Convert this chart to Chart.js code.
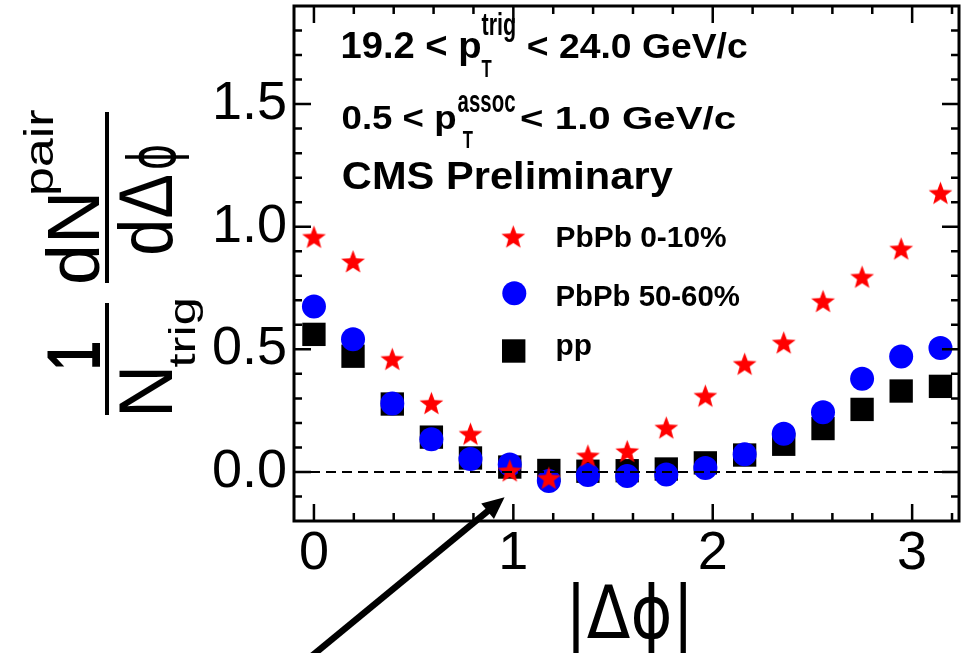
<!DOCTYPE html>
<html><head><meta charset="utf-8">
<script src="https://cdn.jsdelivr.net/npm/chart.js@4.4.1/dist/chart.umd.min.js"></script>
<style>html,body{margin:0;padding:0;background:#fff}#wrap{width:961px;height:653px}</style>
</head><body><div id="wrap"><canvas id="c" width="961" height="653"></canvas></div>
<script>
// ---- data ----
const dphi = [0, 0.196, 0.393, 0.589, 0.785, 0.982, 1.178, 1.374, 1.571, 1.767, 1.963, 2.160, 2.356, 2.553, 2.749, 2.945, 3.142];
const pbpbCentral    = [0.958, 0.858, 0.460, 0.280, 0.155, 0.005, -0.025, 0.066, 0.084, 0.180, 0.310, 0.440, 0.527, 0.696, 0.795, 0.910, 1.137];
const pbpbPeripheral = [0.675, 0.541, 0.279, 0.133, 0.053, 0.030, -0.037, -0.012, -0.017, -0.010, 0.016, 0.072, 0.156, 0.243, 0.380, 0.471, 0.505];
const ppValues       = [0.561, 0.472, 0.277, 0.142, 0.057, 0.020, 0.006, 0.003, 0.005, 0.012, 0.037, 0.069, 0.113, 0.177, 0.255, 0.330, 0.349];
const seriesLabels = ['PbPb 0-10%', 'PbPb 50-60%', 'pp'];
const xTickValues = [0, 1, 2, 3];
const yTickValues = [0, 0.5, 1.0, 1.5];
const xTitle = '|\u0394\u03D5|';

const FAM = "'Liberation Sans', Arial, Helvetica, sans-serif";
const GFAM = "'DejaVu Sans', 'Liberation Sans', sans-serif";

function makeStar(R, ratio, color) {
  const s = Math.ceil(2 * R + 2);
  const c = document.createElement('canvas');
  c.width = s; c.height = s;
  const g = c.getContext('2d');
  g.fillStyle = color;
  g.beginPath();
  for (let i = 0; i < 10; i++) {
    const r = i % 2 ? R * ratio : R;
    const a = -Math.PI / 2 + i * Math.PI / 5;
    g.lineTo(s / 2 + r * Math.cos(a), s / 2 + 1 + r * Math.sin(a));
  }
  g.closePath(); g.fill();
  return c;
}
const starImg = makeStar(12.5, 0.42, '#ff0000');

// fit a text's ink box to a target box (horizontal)
function fitText(ctx, text, x0, x1, top, base, bold, fam) {
  ctx.save();
  ctx.font = (bold ? 'bold ' : '') + '100px ' + (fam || FAM);
  ctx.textAlign = 'left'; ctx.textBaseline = 'alphabetic';
  const m = ctx.measureText(text);
  const w = m.actualBoundingBoxLeft + m.actualBoundingBoxRight;
  const a = m.actualBoundingBoxAscent;
  ctx.translate(x0, base);
  ctx.scale((x1 - x0) / w, (base - top) / a);
  ctx.fillStyle = '#000';
  ctx.fillText(text, m.actualBoundingBoxLeft, 0);
  ctx.restore();
}
// rotated (reading upward): y0 = bottom start, y1 = top end, xTop glyph top, xBase baseline
function fitTextRot(ctx, text, y0, y1, xTop, xBase, bold, fam) {
  ctx.save();
  ctx.font = (bold ? 'bold ' : '') + '100px ' + (fam || FAM);
  ctx.textAlign = 'left'; ctx.textBaseline = 'alphabetic';
  const m = ctx.measureText(text);
  const w = m.actualBoundingBoxLeft + m.actualBoundingBoxRight;
  const a = m.actualBoundingBoxAscent;
  ctx.translate(xBase, y0);
  ctx.rotate(-Math.PI / 2);
  ctx.scale((y0 - y1) / w, (xBase - xTop) / a);
  ctx.fillStyle = '#000';
  ctx.fillText(text, m.actualBoundingBoxLeft, 0);
  ctx.restore();
}

const decor = {
  id: 'decor',
  beforeDraw(chart) {
    const ctx = chart.ctx;
    ctx.save(); ctx.fillStyle = '#fff'; ctx.fillRect(0, 0, chart.width, chart.height); ctx.restore();
  },
  afterDatasetsDraw(chart) {
    const ctx = chart.ctx, a = chart.chartArea, xs = chart.scales.x, ys = chart.scales.y;
    ctx.save();
    // dashed zero line
    const y0 = ys.getPixelForValue(0);
    ctx.strokeStyle = '#000'; ctx.lineWidth = 2; ctx.setLineDash([10, 6]);
    ctx.beginPath(); ctx.moveTo(a.left, y0); ctx.lineTo(a.right, y0); ctx.stroke();
    ctx.setLineDash([]);
    // frame
    ctx.lineWidth = 3;
    ctx.strokeRect(a.left, a.top, a.right - a.left, a.bottom - a.top);
    // ticks (inside)
    ctx.lineWidth = 2.5;
    ctx.beginPath();
    for (let k = 0; k <= 16; k++) {
      const v = k * 0.2;
      const px = xs.getPixelForValue(v);
      const major = (k % 5 === 0);
      const L = major ? 17 : 8;
      ctx.moveTo(px, a.bottom); ctx.lineTo(px, a.bottom - L);
      ctx.moveTo(px, a.top); ctx.lineTo(px, a.top + L);
    }
    for (let k = -1; k <= 18; k++) {
      const v = k * 0.1;
      const py = ys.getPixelForValue(v);
      const major = (k % 5 === 0);
      const L = major ? 17 : 8;
      ctx.moveTo(a.left, py); ctx.lineTo(a.left + L, py);
      ctx.moveTo(a.right, py); ctx.lineTo(a.right - L, py);
    }
    ctx.stroke();
    ctx.restore();
  },
  afterDraw(chart) {
    const ctx = chart.ctx, xs = chart.scales.x, ys = chart.scales.y;
    const ds = chart.data.datasets;
    // annotations in the plot
    fitText(ctx, '19.2 < p', 342.7, 480, 32.7, 58.3, true);
    fitText(ctx, 'T', 481.7, 491.7, 60, 76.7, true);
    fitText(ctx, 'trig', 481.7, 515, 11.7, 35, true);
    fitText(ctx, '< 24.0 GeV/c', 528.3, 746.7, 32.7, 58.3, true);
    fitText(ctx, '0.5 < p', 342.7, 455, 106, 129.3, true);
    fitText(ctx, 'T', 463, 473, 131.7, 148.3, true);
    fitText(ctx, 'assoc', 458, 515, 95, 111.7, true);
    fitText(ctx, '< 1.0 GeV/c', 521.7, 735, 106, 129.3, true);
    fitText(ctx, 'CMS Preliminary', 343.5, 673, 160.6, 189.3, true);
    // legend
    ctx.save();
    ctx.drawImage(starImg, 513.3 - starImg.width / 2, 236.7 - starImg.height / 2);
    ctx.fillStyle = ds[1].backgroundColor;
    ctx.beginPath(); ctx.arc(514.3, 293.3, 12, 0, Math.PI * 2); ctx.fill();
    ctx.fillStyle = ds[2].backgroundColor;
    ctx.fillRect(513.7 - 11.7, 351 - 11.7, 23.4, 23.4);
    ctx.restore();
    fitText(ctx, seriesLabels[0], 557.3, 726, 225, 246.7, true);
    fitText(ctx, seriesLabels[1], 557.3, 739.3, 284.5, 306, true);
    fitText(ctx, seriesLabels[2], 557.3, 590.7, 339, 354.5, true);
    // x title
    fitText(ctx, xTitle, 573, 686, 582, 638, false, GFAM);
    // y title
    fitTextRot(ctx, '1', 367, 343, 48, 100, true);
    fitTextRot(ctx, 'N', 412, 370, 120, 172, false);
    fitTextRot(ctx, 'trig', 367, 300, 168, 195, false);
    fitTextRot(ctx, 'dN', 282, 196, 45, 99, false);
    fitTextRot(ctx, 'pair', 193, 110, 23, 53, false);
    fitTextRot(ctx, 'd\u0394', 253, 176, 117, 172, false);
    fitTextRot(ctx, '\u03D5', 168, 146, 125, 175, false, GFAM);
    ctx.save();
    ctx.fillStyle = '#000';
    ctx.fillRect(105, 303, 4, 112);
    ctx.fillRect(105, 112, 4, 171);
    // arrow
    const tx = xs.getPixelForValue(0.956), ty = ys.getPixelForValue(-0.103);
    const fx = xs.getPixelForValue(-0.055), fy = ys.getPixelForValue(-0.78);
    const ang = Math.atan2(ty - fy, tx - fx);
    const HL = 22, HW = 10;
    const bx = tx - HL * Math.cos(ang), by = ty - HL * Math.sin(ang);
    ctx.strokeStyle = '#000'; ctx.lineWidth = 6.5;
    ctx.beginPath(); ctx.moveTo(fx, fy); ctx.lineTo(bx + 2 * Math.cos(ang), by + 2 * Math.sin(ang)); ctx.stroke();
    ctx.beginPath();
    ctx.moveTo(tx, ty);
    ctx.lineTo(bx + HW * Math.sin(ang), by - HW * Math.cos(ang));
    ctx.lineTo(bx - HW * Math.sin(ang), by + HW * Math.cos(ang));
    ctx.closePath(); ctx.fill();
    ctx.restore();
  }
};

const mk = (vals) => dphi.map((x, i) => ({ x: x, y: vals[i] }));
const zeroPad = (s) => { s.paddingLeft = 0; s.paddingRight = 0; s.paddingTop = 0; s.paddingBottom = 0; };

new Chart(document.getElementById('c'), {
  type: 'scatter',
  data: {
    datasets: [
      { label: seriesLabels[0], data: mk(pbpbCentral), pointStyle: starImg, pointRadius: 12, pointHoverRadius: 12,
        backgroundColor: '#ff0000', borderColor: '#ff0000', borderWidth: 0, showLine: false },
      { label: seriesLabels[1], data: mk(pbpbPeripheral), pointStyle: 'circle', pointRadius: 12, pointHoverRadius: 12,
        backgroundColor: '#0000ff', borderColor: '#0000ff', borderWidth: 0, showLine: false },
      { label: seriesLabels[2], data: mk(ppValues), pointStyle: 'rect', pointRadius: 16.5, pointHoverRadius: 16.5,
        backgroundColor: '#000000', borderColor: '#000000', borderWidth: 0, showLine: false }
    ]
  },
  options: {
    responsive: false,
    animation: false,
    devicePixelRatio: 1,
    events: [],
    layout: { autoPadding: false, padding: { left: 0, top: 6, right: 2, bottom: 0 } },
    plugins: { legend: { display: false }, tooltip: { enabled: false }, title: { display: false } },
    scales: {
      x: {
        type: 'linear', min: -0.1, max: 3.235,
        grid: { display: false, drawTicks: false }, border: { display: false },
        afterBuildTicks: (s) => { s.ticks = xTickValues.map(v => ({ value: v })); },
        afterFit: (s) => { s.height = 132; zeroPad(s); },
        ticks: { autoSkip: false, maxRotation: 0, padding: 1, color: '#000',
          font: { family: FAM, size: 54 }, callback: (v) => String(v) }
      },
      y: {
        type: 'linear', min: -0.2, max: 1.9,
        grid: { display: false, drawTicks: false }, border: { display: false },
        afterBuildTicks: (s) => { s.ticks = yTickValues.map(v => ({ value: v })); },
        afterFit: (s) => { s.width = 294; zeroPad(s); },
        ticks: { autoSkip: false, padding: 7, color: '#000',
          font: { family: FAM, size: 54 }, callback: (v) => Number(v).toFixed(1) }
      }
    }
  },
  plugins: [decor]
});
</script>
</body></html>
